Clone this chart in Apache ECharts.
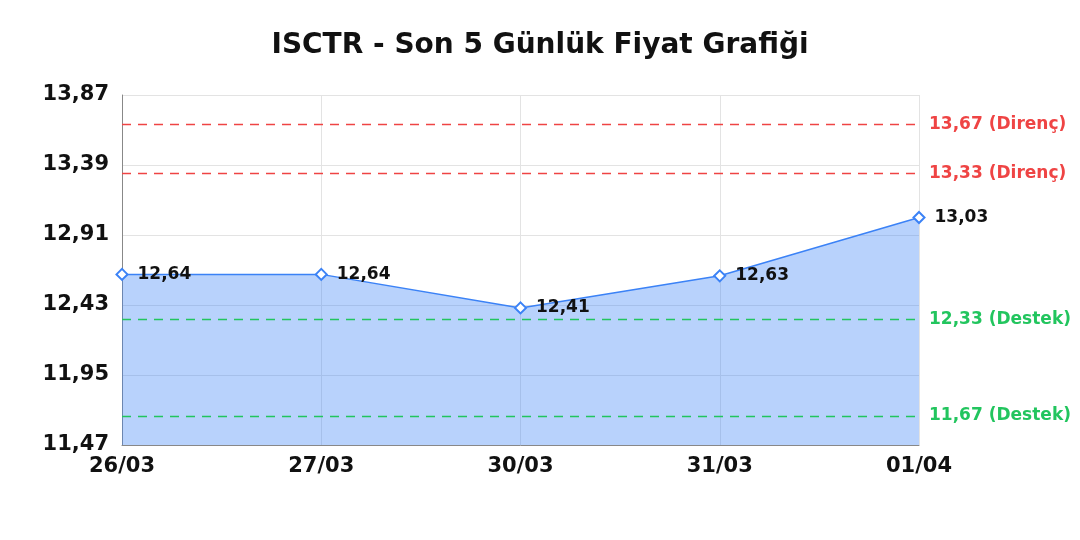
<!DOCTYPE html>
<html><head><meta charset="utf-8">
<script src="https://cdn.jsdelivr.net/npm/echarts@6/dist/echarts.min.js"></script>
<style>html,body{margin:0;padding:0;background:#fff}#c{width:1080px;height:540px}</style>
</head><body><div id="c"></div>
<script>
const title = 'ISCTR - Son 5 Günlük Fiyat Grafiği';
const categories = ['26/03','27/03','30/03','31/03','01/04'];
const prices = [12.64, 12.64, 12.41, 12.63, 13.03];
const resistance = [13.67, 13.33];
const support = [12.33, 11.67];
const yMin = 11.47, yMax = 13.87, yStep = 0.48;
const fmt = v => v.toFixed(2).replace('.', ',');
const FONT = '"DejaVu Sans", sans-serif';

const markData = [
  ...resistance.map(v => ({yAxis: v, lineStyle: {color: '#ef4444'}, label: {color: '#ef4444', formatter: fmt(v) + ' (Direnç)'}})),
  ...support.map(v => ({yAxis: v, lineStyle: {color: '#22c55e'}, label: {color: '#22c55e', formatter: fmt(v) + ' (Destek)'}}))
];

const chart = echarts.init(document.getElementById('c'), null, {renderer: 'canvas'});
chart.setOption({
  animation: false,
  textStyle: {fontFamily: FONT},
  title: {text: title, left: 'center', top: 27, textStyle: {fontFamily: FONT, fontSize: 28, fontWeight: 'bold', color: '#111'}},
  grid: {left: 122, right: 161, top: 95, bottom: 95, containLabel: false},
  xAxis: {
    type: 'category', data: categories, boundaryGap: false,
    axisLine: {lineStyle: {color: '#888'}}, axisTick: {show: false},
    axisLabel: {fontFamily: FONT, fontSize: 21, fontWeight: 'bold', color: '#111', margin: 11},
    splitLine: {show: true, lineStyle: {color: '#e3e3e3'}}
  },
  yAxis: {
    type: 'value', min: yMin, max: yMax, interval: yStep,
    axisLine: {show: true, lineStyle: {color: '#888'}}, axisTick: {show: false},
    axisLabel: {fontFamily: FONT, fontSize: 21, fontWeight: 'bold', color: '#111', margin: 13, formatter: fmt},
    splitLine: {lineStyle: {color: '#e3e3e3'}}
  },
  series: [{
    type: 'line', data: prices,
    symbol: 'diamond', symbolSize: 11,
    lineStyle: {color: '#3b82f6', width: 1.5},
    itemStyle: {color: '#fff', borderColor: '#3b82f6', borderWidth: 2},
    areaStyle: {color: 'rgba(59,130,246,0.36)', opacity: 1},
    label: {show: true, position: 'right', distance: 9, fontFamily: FONT, fontSize: 17, fontWeight: 'bold', color: '#111', formatter: p => fmt(p.value)},
    markLine: {
      silent: true, symbol: 'none',
      lineStyle: {type: [9, 7], width: 1.3},
      label: {position: 'end', distance: 10, fontFamily: FONT, fontSize: 17, fontWeight: 'bold'},
      data: markData
    }
  }]
});
</script></body></html>
